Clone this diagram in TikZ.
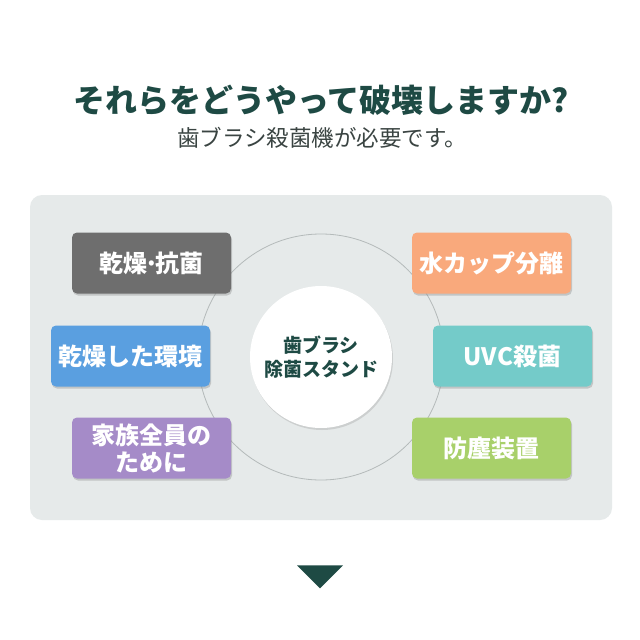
\documentclass[tikz,border=0pt]{standalone}
\usepackage{fontspec}
\setmainfont{Noto Sans CJK JP}
\usetikzlibrary{shadows,shapes.geometric}
\definecolor{titlecol}{HTML}{1E4A44}
\definecolor{subcol}{HTML}{3A4442}
\definecolor{panelcol}{HTML}{E6EAEA}
\definecolor{ringcol}{HTML}{B4BABA}
\definecolor{cgray}{HTML}{6E6E6E}
\definecolor{corange}{HTML}{F9A97C}
\definecolor{cblue}{HTML}{5A9FE0}
\definecolor{cteal}{HTML}{74CBC9}
\definecolor{cpurple}{HTML}{A58BC8}
\definecolor{cgreen}{HTML}{A8D06A}
\tikzset{
  feat/.style={rounded corners=5pt, minimum width=159pt, minimum height=61pt,
    inner sep=0pt, align=center, text=white,
    font=\bfseries\fontsize{24}{27}\selectfont,
    drop shadow={opacity=0.35, shadow xshift=1pt, shadow yshift=-2pt}},
}
\begin{document}
\begin{tikzpicture}[x=1pt,y=-1pt]
\useasboundingbox (0,0) rectangle (640,640);
\fill[white] (0,0) rectangle (640,640);
% title
\node[text=titlecol, font=\bfseries\fontsize{32}{35}\selectfont] (title) at (321,100) {それらをどうやって破壊しますか?};
\node[text=subcol, font=\fontsize{22.5}{25}\selectfont] (sub) at (322,138) {歯ブラシ殺菌機が必要です。};
% panel
\fill[panelcol, rounded corners=12pt] (30,195) rectangle (612,520);
% ring
\node[draw=ringcol, line width=0.8pt, circle, minimum size=246pt, inner sep=0pt] (ring) at (321,357) {};
% boxes
\node[feat, fill=cgray] (b1) at (151.5,263) {乾燥\kern-0.15em·\kern-0.15em抗菌};
\node[feat, fill=corange] (b2) at (491.5,263) {水カップ分離};
\node[feat, fill=cblue] (b3) at (130.5,356) {乾燥した環境};
\node[feat, fill=cteal] (b4) at (512.5,356) {UVC殺菌};
\node[feat, fill=cpurple] (b5) at (151.5,448) {家族全員の\\ために};
\node[feat, fill=cgreen] (b6) at (491.5,448) {防塵装置};
% center
\node[circle, fill=white, minimum size=142pt, inner sep=0pt,
  drop shadow={opacity=0.25, shadow xshift=1pt, shadow yshift=-2pt},
  text=titlecol, align=center, font=\bfseries\fontsize{19}{24}\selectfont] (center) at (321,357) {歯ブラシ\\除菌スタンド};
% arrow
\node[isosceles triangle, shape border rotate=-90, isosceles triangle apex angle=90,
  fill=titlecol, minimum width=46pt, inner sep=0pt] (arrow) at (320,575) {};
\end{tikzpicture}
\end{document}
